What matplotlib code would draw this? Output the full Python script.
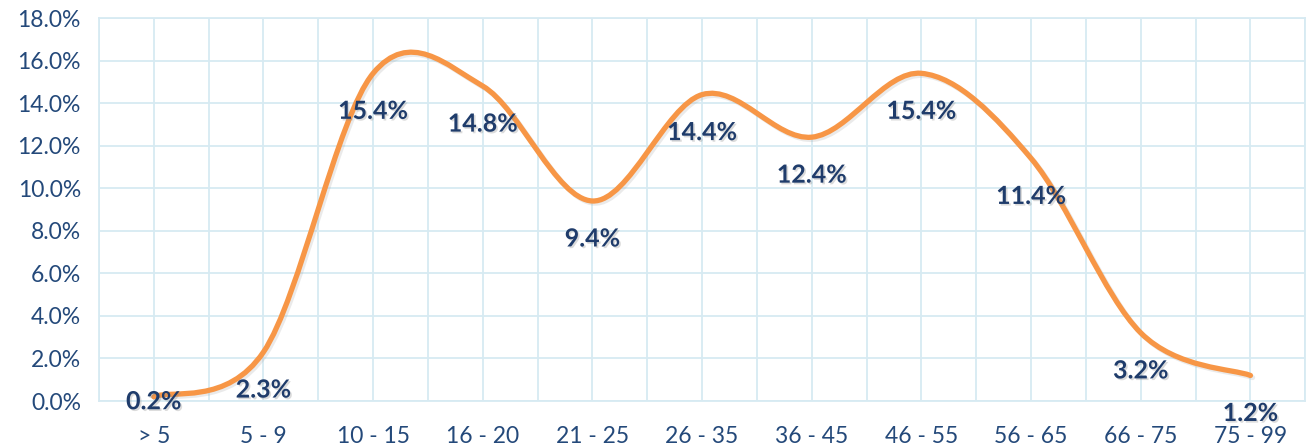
import matplotlib
matplotlib.use("Agg")
import matplotlib.pyplot as plt
import matplotlib.patheffects as pe
from matplotlib.path import Path
from matplotlib.patches import PathPatch
from matplotlib.ticker import MultipleLocator, PercentFormatter

# data
categories = ['> 5', '5 - 9', '10 - 15', '16 - 20', '21 - 25', '26 - 35',
              '36 - 45', '46 - 55', '56 - 65', '66 - 75', '75 - 99']
values = [0.2, 2.3, 15.4, 14.8, 9.4, 14.4, 12.4, 15.4, 11.4, 3.2, 1.2]

line_color = '#F79646'
tick_color = '#24497A'
label_color = '#1F3C6B'
grid_color = '#D7EAF2'

plt.rcParams['font.family'] = ['Lato', 'DejaVu Sans']

fig = plt.figure(figsize=(13.07, 4.47), dpi=100)
ax = fig.add_axes([0.0757, 0.1029, 0.923, 0.8568])

# smoothed line like excel (catmull-rom -> bezier)
xs = list(range(len(values)))
pts = list(zip(xs, values))
verts = [pts[0]]
codes = [Path.MOVETO]
for i in range(len(pts) - 1):
    p0 = pts[i - 1] if i > 0 else pts[i]
    p1 = pts[i]
    p2 = pts[i + 1]
    p3 = pts[i + 2] if i + 2 < len(pts) else pts[i + 1]
    c1 = (p1[0] + (p2[0] - p0[0]) / 6, p1[1] + (p2[1] - p0[1]) / 6)
    c2 = (p2[0] - (p3[0] - p1[0]) / 6, p2[1] - (p3[1] - p1[1]) / 6)
    verts += [c1, c2, p2]
    codes += [Path.CURVE4] * 3

patch = PathPatch(Path(verts, codes), facecolor='none', edgecolor=line_color,
                  lw=3.8, capstyle='round', joinstyle='round', zorder=3)
patch.set_path_effects([pe.SimpleLineShadow(offset=(1.5, -1.5), shadow_color='#999999', alpha=0.2),
                        pe.Normal()])
ax.add_patch(patch)

# data labels, below the points
for i, v in enumerate(values):
    dy = -38 if v > 1 else -5
    t = ax.annotate(f'{v:.1f}%', (i, v), xytext=(0, dy), textcoords='offset pixels',
                    ha='center', va='center', fontsize=18, fontweight='bold',
                    color=label_color, zorder=4, annotation_clip=False)
    t.set_path_effects([pe.withSimplePatchShadow(offset=(1.2, -1.2), shadow_rgbFace='#888888', alpha=0.3)])

ax.set_xlim(-0.5, len(values) - 0.5)
ax.set_ylim(0, 18)
ax.set_xticks(xs)
ax.set_xticklabels(categories)
ax.xaxis.set_minor_locator(MultipleLocator(0.5))
ax.yaxis.set_major_locator(MultipleLocator(2))
ax.yaxis.set_major_formatter(PercentFormatter(decimals=1))
ax.grid(True, which='both', axis='x', color=grid_color, lw=1.3)
ax.grid(True, which='major', axis='y', color=grid_color, lw=1.3)
ax.set_axisbelow(True)
ax.tick_params(which='both', length=0)
ax.tick_params(axis='x', pad=18, labelsize=16.5, labelcolor=tick_color)
ax.tick_params(axis='y', pad=13, labelsize=16.5, labelcolor=tick_color)
for s in ax.spines.values():
    s.set_color(grid_color)
    s.set_linewidth(1.3)

fig.savefig('out.png', dpi=100)
